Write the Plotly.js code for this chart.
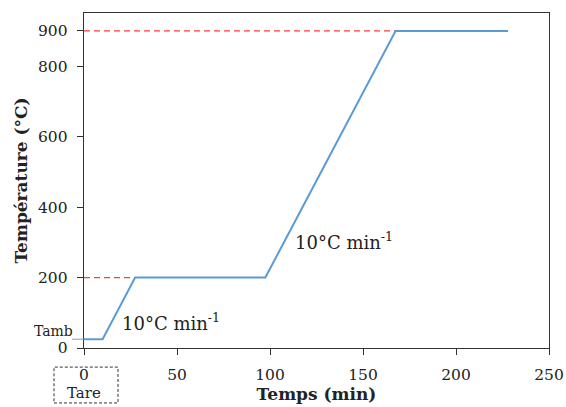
<!DOCTYPE html>
<html><head><meta charset="utf-8">
<script src="https://cdn.plot.ly/plotly-3.0.1.min.js"></script>
<style>body{margin:0;background:#fff}#c{width:566px;height:407px}</style>
</head><body><div id="c"></div>
<script>
const time = [0, 10, 27.5, 97.5, 167.5, 228];
const temp = [25, 25, 200, 200, 900, 900];
const refLow = {x: [0, 27.5], y: [200, 200]};
const refHigh = {x: [0, 167.5], y: [900, 900]};
const tambValue = 25;
const xTickVals = [0, 50, 100, 150, 200, 250];
const yTickVals = [0, 200, 400, 600, 800, 900];
const rateLabel = '10°C min<sup>-1</sup>';

const serif = 'DejaVu Serif, Liberation Serif, serif';
const traces = [
  {x: refLow.x, y: refLow.y, mode: 'lines', line: {color: '#ff3b3b', width: 1.3, dash: '6px,4px'}, hoverinfo: 'skip'},
  {x: refHigh.x, y: refHigh.y, mode: 'lines', line: {color: '#ff3b3b', width: 1.3, dash: '6px,4px'}, hoverinfo: 'skip'},
  {x: time, y: temp, mode: 'lines', line: {color: '#5b9bd5', width: 2}}
];
const layout = {
  width: 566, height: 407,
  margin: {l: 84, r: 17, t: 13, b: 59},
  showlegend: false,
  paper_bgcolor: '#fff', plot_bgcolor: '#fff',
  font: {family: serif, size: 15.5, color: '#222'},
  xaxis: {
    range: [0, 250], tickvals: xTickVals, ticks: 'outside', ticklen: 6, tickcolor: '#333',
    showgrid: false, zeroline: false, showline: true, linecolor: '#333', linewidth: 1.3, mirror: true,
    ticklabelstandoff: 6,
    tickfont: {family: serif, size: 15.5, color: '#222'},
    title: {text: '<b>Temps (min)</b>', font: {family: serif, size: 17, color: '#222'}, standoff: 4}
  },
  yaxis: {
    range: [0, 951], tickvals: yTickVals, ticks: 'outside', ticklen: 6, tickcolor: '#333',
    showgrid: false, zeroline: false, showline: true, linecolor: '#333', linewidth: 1.3, mirror: true,
    ticklabelstandoff: 6,
    tickfont: {family: serif, size: 15.5, color: '#222'},
    title: {text: '<b>Température (°C)</b>', font: {family: serif, size: 17, color: '#222'}, standoff: 6}
  },
  shapes: [
    {type: 'line', xref: 'paper', yref: 'y', x0: -0.026, x1: 0, y0: tambValue, y1: tambValue, line: {color: '#999', width: 1}},
    {type: 'rect', xref: 'paper', yref: 'paper', x0: -0.0645, x1: 0.0731, y0: -0.164, y1: -0.057, line: {color: '#333', width: 1, dash: '3px,2px'}}
  ],
  annotations: [
    {xref: 'paper', yref: 'y', x: -0.02, y: tambValue, text: 'Tamb', showarrow: false, xanchor: 'right', yanchor: 'bottom', yshift: -2, font: {family: serif, size: 14, color: '#222'}},
    {xref: 'x', yref: 'paper', x: 0, y: -0.134, text: 'Tare', showarrow: false, xanchor: 'center', yanchor: 'middle', borderpad: 0, font: {family: serif, size: 15, color: '#222'}},
    {xref: 'x', yref: 'y', x: 19.5, y: 75, text: rateLabel, showarrow: false, xanchor: 'left', yanchor: 'middle', font: {family: serif, size: 18, color: '#222'}},
    {xref: 'x', yref: 'y', x: 112.5, y: 305, text: rateLabel, showarrow: false, xanchor: 'left', yanchor: 'middle', font: {family: serif, size: 18, color: '#222'}}
  ]
};
Plotly.newPlot('c', traces, layout, {staticPlot: true, displayModeBar: false});
</script></body></html>
